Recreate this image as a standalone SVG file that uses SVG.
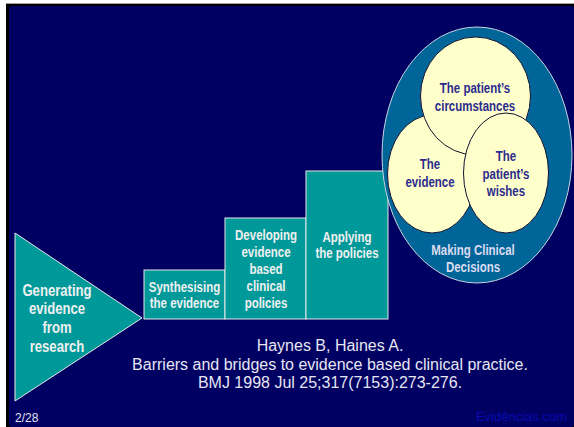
<svg xmlns="http://www.w3.org/2000/svg" width="574" height="427" viewBox="0 0 574 427">
<style>
.teal{fill:#009999;stroke:#e8e8e8;stroke-width:1}
.bt{font-family:"Liberation Sans",Arial,sans-serif;font-weight:bold;fill:#f0f0f0;text-anchor:middle}
.ct{font-family:"Liberation Sans",Arial,sans-serif;font-weight:bold;fill:#2b2b8c;text-anchor:middle;font-size:14px}
.mt{font-family:"Liberation Sans",Arial,sans-serif;font-weight:bold;fill:#dcdcf0;text-anchor:middle;font-size:14px}
.cite{font-family:"Liberation Sans",Arial,sans-serif;fill:#e6e6f2;text-anchor:middle;font-size:16px}
.circ{fill:#ffffcc;stroke:#101030;stroke-width:1}
</style>
<rect x="0" y="0" width="574" height="427" fill="#ffffff"/>
<rect x="6" y="3" width="568" height="1" fill="#a0a0a0"/>
<rect x="6" y="4" width="568" height="423" fill="#000000"/>
<rect x="9" y="6" width="565" height="421" rx="3" fill="#000062"/>

<g id="generating">
<polygon class="teal" points="15,233 142,318 15,401"/>
<text class="bt" font-size="16" transform="translate(57,296) scale(0.82,1)">Generating</text>
<text class="bt" font-size="16" transform="translate(57,314) scale(0.82,1)">evidence</text>
<text class="bt" font-size="16" transform="translate(57,333) scale(0.82,1)">from</text>
<text class="bt" font-size="16" transform="translate(57,352) scale(0.82,1)">research</text>
</g>

<g id="synthesising">
<rect class="teal" x="144" y="270" width="81" height="49"/>
<text class="bt" font-size="14" transform="translate(184.5,291.5) scale(0.82,1)">Synthesising</text>
<text class="bt" font-size="14" transform="translate(184.5,308) scale(0.82,1)">the evidence</text>
</g>

<g id="developing">
<rect class="teal" x="225" y="218" width="81" height="101"/>
<text class="bt" font-size="14" transform="translate(266,240) scale(0.82,1)">Developing</text>
<text class="bt" font-size="14" transform="translate(266,257) scale(0.82,1)">evidence</text>
<text class="bt" font-size="14" transform="translate(266,274) scale(0.82,1)">based</text>
<text class="bt" font-size="14" transform="translate(266,291) scale(0.82,1)">clinical</text>
<text class="bt" font-size="14" transform="translate(266,308) scale(0.82,1)">policies</text>
</g>

<g id="applying">
<rect class="teal" x="306" y="171" width="82" height="148"/>
<text class="bt" font-size="14" transform="translate(347,242) scale(0.82,1)">Applying</text>
<text class="bt" font-size="14" transform="translate(347,258) scale(0.82,1)">the policies</text>
</g>

<g id="making">
<ellipse cx="477" cy="155" rx="95" ry="128" fill="#006699" stroke="#c8d4e0" stroke-width="1"/>
<text class="mt" transform="translate(473,255) scale(0.82,1)">Making Clinical</text>
<text class="mt" transform="translate(473,272) scale(0.82,1)">Decisions</text>
</g>

<g id="evidence">
<ellipse class="circ" cx="432" cy="174" rx="44.5" ry="59"/>
<text class="ct" transform="translate(430,169) scale(0.82,1)">The</text>
<text class="ct" transform="translate(430,187) scale(0.82,1)">evidence</text>
</g>

<g id="circumstances">
<ellipse class="circ" cx="475.5" cy="96" rx="55" ry="59"/>
<text class="ct" transform="translate(475,93) scale(0.82,1)">The patient’s</text>
<text class="ct" transform="translate(475,111) scale(0.82,1)">circumstances</text>
</g>

<g id="wishes">
<ellipse class="circ" cx="506" cy="173" rx="42.5" ry="60"/>
<text class="ct" transform="translate(506,161) scale(0.82,1)">The</text>
<text class="ct" transform="translate(506,179) scale(0.82,1)">patient’s</text>
<text class="ct" transform="translate(506,196) scale(0.82,1)">wishes</text>
</g>

<g id="connectors"></g>

<g id="citation">
<text class="cite" x="330" y="351">Haynes B, Haines A.</text>
<text class="cite" x="330" y="370">Barriers and bridges to evidence based clinical practice.</text>
<text class="cite" x="330" y="388">BMJ 1998 Jul 25;317(7153):273-276.</text>
</g>

<text x="15" y="422" font-family="Liberation Sans, Arial, sans-serif" font-size="12" fill="#e6e6f2">2/28</text>
<text x="567" y="421" text-anchor="end" font-family="Liberation Sans, Arial, sans-serif" font-size="13" fill="#0a0ab4">Evidências.com</text>
</svg>
